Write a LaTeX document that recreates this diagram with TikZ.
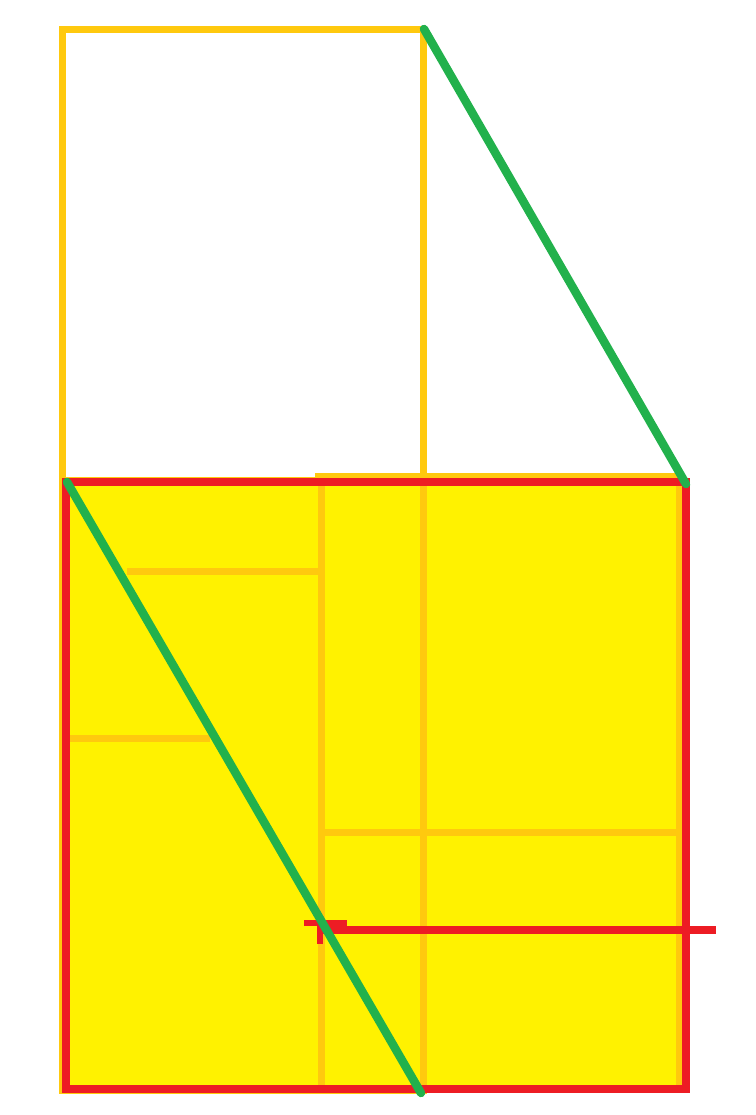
\documentclass[tikz,border=0pt]{standalone}
\usepackage{tikz}
\usetikzlibrary{calc,positioning}
\definecolor{paintyellow}{HTML}{FFF200}
\definecolor{paintorange}{HTML}{FFC90E}
\definecolor{paintred}{HTML}{ED1C24}
\definecolor{paintgreen}{HTML}{22B14C}
\begin{document}
\begin{tikzpicture}[x=0.02cm,y=-0.02cm,
		orangeline/.style={paintorange,line width=1.4mm},
		redline/.style={paintred,line width=1.7mm},
		greenline/.style={paintgreen,line width=1.7mm,line cap=round}]
		\useasboundingbox (0,0) rectangle (755,1115);
		\fill[paintyellow] (62,478) rectangle (688,1093);
		% top square and left strip
		\draw[orangeline] (62,30) rectangle (423,1090);
		\draw[orangeline] (62,480)--(423,480);
		% right block
		\draw[orangeline] (315,476)--(679,476)--(679,1090);
		\draw[orangeline] (321,476)--(321,1090);
		\draw[orangeline] (127,571)--(321,571);
		\draw[orangeline] (70,738)--(210,738);
		\draw[orangeline] (321,832)--(679,832);
		% red frame
		\draw[redline] (66,482) rectangle (686,1089);
		\draw[redline,line width=1.5mm] (318,930)--(716,930);
		\draw[redline,line width=1.3mm] (304,923)--(347,923);
		\draw[redline,line width=1.2mm] (320,921)--(320,944);
		% diagonals
		\draw[greenline] (424,29)--(686,484);
		\draw[greenline] (67,482)--(421,1093);
\end{tikzpicture}
\end{document}
